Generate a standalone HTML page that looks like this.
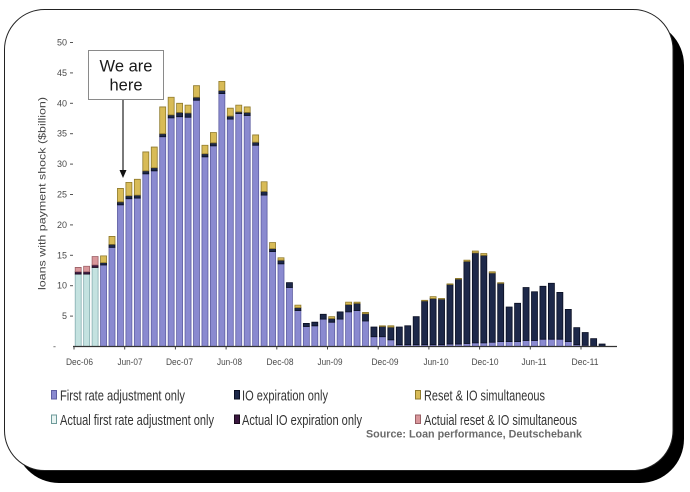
<!DOCTYPE html>
<html>
<head>
<meta charset="utf-8">
<style>
html,body{margin:0;padding:0;background:#fff;width:690px;height:492px;overflow:hidden;}
svg{display:block;}
.t{fill:#c4e2e0;stroke:#86aeb0;}
.k{fill:#3a1840;stroke:#1a0a1c;}
.p{fill:#d9979b;stroke:#9a6066;}
.b{fill:#8a8ad0;stroke:#5f5fa2;}
.n{fill:#1d2849;stroke:#0a0f22;}
.y{fill:#d8bb57;stroke:#8f7a2c;}
.bars rect{stroke-width:0.8;vector-effect:non-scaling-stroke;}
.ax{font-family:"Liberation Sans",Arial,sans-serif;font-size:9px;fill:#4a4a4a;}
.lg{font-family:"Liberation Sans",Arial,sans-serif;font-size:14.5px;fill:#333;}
</style>
</head>
<body>
<svg width="690" height="492" viewBox="0 0 690 492" xmlns="http://www.w3.org/2000/svg">
  <!-- frame -->
  <rect x="15" y="21" width="669" height="462" rx="44" ry="44" fill="#000"/>
  <rect x="4.5" y="9.5" width="668.5" height="461" rx="40" ry="40" fill="#fff" stroke="#222" stroke-width="1"/>

  <!-- y axis ticks -->
  <g stroke="#555" stroke-width="1">
    <line x1="70" y1="42.5" x2="73" y2="42.5"/>
    <line x1="70" y1="72.9" x2="73" y2="72.9"/>
    <line x1="70" y1="103.3" x2="73" y2="103.3"/>
    <line x1="70" y1="133.7" x2="73" y2="133.7"/>
    <line x1="70" y1="164.1" x2="73" y2="164.1"/>
    <line x1="70" y1="194.5" x2="73" y2="194.5"/>
    <line x1="70" y1="224.9" x2="73" y2="224.9"/>
    <line x1="70" y1="255.3" x2="73" y2="255.3"/>
    <line x1="70" y1="285.7" x2="73" y2="285.7"/>
    <line x1="70" y1="316.1" x2="73" y2="316.1"/>
  </g>
  <g class="ax" text-anchor="end">
    <text x="67" y="45.5">50</text>
    <text x="67" y="75.9">45</text>
    <text x="67" y="106.3">40</text>
    <text x="67" y="136.7">35</text>
    <text x="67" y="167.1">30</text>
    <text x="67" y="197.5">25</text>
    <text x="67" y="227.9">20</text>
    <text x="67" y="258.3">15</text>
    <text x="67" y="288.7">10</text>
    <text x="67" y="319.1">5</text>
    <text x="56" y="349.5">-</text>
  </g>
  <text transform="translate(45.5,193.5) rotate(-90)" text-anchor="middle" font-family="Liberation Sans, Arial, sans-serif" font-size="10.5" fill="#444" textLength="193" lengthAdjust="spacingAndGlyphs">loans with payment shock ($billion)</text>

  <!-- bars -->
  <g class="bars" transform="translate(0,346.5) scale(1,-6.08)">
    <rect class="t" x="75.2" y="0" width="6" height="11.9"/><rect class="k" x="75.2" y="11.9" width="6" height="0.4"/><rect class="p" x="75.2" y="12.3" width="6" height="0.7"/>
    <rect class="t" x="83.65" y="0" width="6" height="11.9"/><rect class="k" x="83.65" y="11.9" width="6" height="0.4"/><rect class="p" x="83.65" y="12.3" width="6" height="0.9"/>
    <rect class="t" x="92.1" y="0" width="6" height="13.0"/><rect class="k" x="92.1" y="13.0" width="6" height="0.4"/><rect class="p" x="92.1" y="13.4" width="6" height="1.4"/>
    <rect class="b" x="100.55" y="0" width="6" height="13.4"/><rect class="n" x="100.55" y="13.4" width="6" height="0.4"/><rect class="y" x="100.55" y="13.8" width="6" height="1.1"/>
    <rect class="b" x="109" y="0" width="6" height="16.3"/><rect class="n" x="109" y="16.3" width="6" height="0.5"/><rect class="y" x="109" y="16.8" width="6" height="1.3"/>
    <rect class="b" x="117.45" y="0" width="6" height="23.3"/><rect class="n" x="117.45" y="23.3" width="6" height="0.5"/><rect class="y" x="117.45" y="23.8" width="6" height="2.2"/>
    <rect class="b" x="125.9" y="0" width="6" height="24.3"/><rect class="n" x="125.9" y="24.3" width="6" height="0.5"/><rect class="y" x="125.9" y="24.8" width="6" height="2.2"/>
    <rect class="b" x="134.35" y="0" width="6" height="24.4"/><rect class="n" x="134.35" y="24.4" width="6" height="0.5"/><rect class="y" x="134.35" y="24.9" width="6" height="2.6"/>
    <rect class="b" x="142.8" y="0" width="6" height="28.4"/><rect class="n" x="142.8" y="28.4" width="6" height="0.5"/><rect class="y" x="142.8" y="28.9" width="6" height="3.1"/>
    <rect class="b" x="151.25" y="0" width="6" height="28.9"/><rect class="n" x="151.25" y="28.9" width="6" height="0.5"/><rect class="y" x="151.25" y="29.4" width="6" height="3.4"/>
    <rect class="b" x="159.7" y="0" width="6" height="34.5"/><rect class="n" x="159.7" y="34.5" width="6" height="0.5"/><rect class="y" x="159.7" y="35" width="6" height="4.4"/>
    <rect class="b" x="168.15" y="0" width="6" height="37.6"/><rect class="n" x="168.15" y="37.6" width="6" height="0.5"/><rect class="y" x="168.15" y="38.1" width="6" height="2.9"/>
    <rect class="b" x="176.6" y="0" width="6" height="37.8"/><rect class="n" x="176.6" y="37.8" width="6" height="0.7"/><rect class="y" x="176.6" y="38.5" width="6" height="1.5"/>
    <rect class="b" x="185.05" y="0" width="6" height="37.7"/><rect class="n" x="185.05" y="37.7" width="6" height="0.7"/><rect class="y" x="185.05" y="38.4" width="6" height="1.3"/>
    <rect class="b" x="193.5" y="0" width="6" height="40.5"/><rect class="n" x="193.5" y="40.5" width="6" height="0.5"/><rect class="y" x="193.5" y="41" width="6" height="1.9"/>
    <rect class="b" x="201.95" y="0" width="6" height="31.2"/><rect class="n" x="201.95" y="31.2" width="6" height="0.5"/><rect class="y" x="201.95" y="31.7" width="6" height="1.4"/>
    <rect class="b" x="210.4" y="0" width="6" height="33.0"/><rect class="n" x="210.4" y="33.0" width="6" height="0.5"/><rect class="y" x="210.4" y="33.5" width="6" height="1.7"/>
    <rect class="b" x="218.85" y="0" width="6" height="41.6"/><rect class="n" x="218.85" y="41.6" width="6" height="0.5"/><rect class="y" x="218.85" y="42.1" width="6" height="1.5"/>
    <rect class="b" x="227.3" y="0" width="6" height="37.4"/><rect class="n" x="227.3" y="37.4" width="6" height="0.5"/><rect class="y" x="227.3" y="37.9" width="6" height="1.3"/>
    <rect class="b" x="235.75" y="0" width="6" height="38.3"/><rect class="n" x="235.75" y="38.3" width="6" height="0.3"/><rect class="y" x="235.75" y="38.6" width="6" height="1.1"/>
    <rect class="b" x="244.2" y="0" width="6" height="38.0"/><rect class="n" x="244.2" y="38.0" width="6" height="0.5"/><rect class="y" x="244.2" y="38.5" width="6" height="0.9"/>
    <rect class="b" x="252.65" y="0" width="6" height="33.1"/><rect class="n" x="252.65" y="33.1" width="6" height="0.5"/><rect class="y" x="252.65" y="33.6" width="6" height="1.2"/>
    <rect class="b" x="261.1" y="0" width="6" height="24.9"/><rect class="n" x="261.1" y="24.9" width="6" height="0.6"/><rect class="y" x="261.1" y="25.5" width="6" height="1.6"/>
    <rect class="b" x="269.55" y="0" width="6" height="15.6"/><rect class="n" x="269.55" y="15.6" width="6" height="0.5"/><rect class="y" x="269.55" y="16.1" width="6" height="1.0"/>
    <rect class="b" x="278" y="0" width="6" height="13.6"/><rect class="n" x="278" y="13.6" width="6" height="0.6"/><rect class="y" x="278" y="14.2" width="6" height="0.4"/>
    <rect class="b" x="286.45" y="0" width="6" height="9.7"/><rect class="n" x="286.45" y="9.7" width="6" height="0.8"/>
    <rect class="b" x="294.9" y="0" width="6" height="5.9"/><rect class="n" x="294.9" y="5.9" width="6" height="0.5"/><rect class="y" x="294.9" y="6.4" width="6" height="0.4"/>
    <rect class="b" x="303.35" y="0" width="6" height="3.3"/><rect class="n" x="303.35" y="3.3" width="6" height="0.5"/>
    <rect class="b" x="311.8" y="0" width="6" height="3.4"/><rect class="n" x="311.8" y="3.4" width="6" height="0.6"/>
    <rect class="b" x="320.25" y="0" width="6" height="4.5"/><rect class="n" x="320.25" y="4.5" width="6" height="0.8"/>
    <rect class="b" x="328.7" y="0" width="6" height="4.0"/><rect class="n" x="328.7" y="4.0" width="6" height="0.6"/><rect class="y" x="328.7" y="4.6" width="6" height="0.3"/>
    <rect class="b" x="337.15" y="0" width="6" height="4.5"/><rect class="n" x="337.15" y="4.5" width="6" height="1.2"/>
    <rect class="b" x="345.6" y="0" width="6" height="5.7"/><rect class="n" x="345.6" y="5.7" width="6" height="1.2"/><rect class="y" x="345.6" y="6.9" width="6" height="0.4"/>
    <rect class="b" x="354.05" y="0" width="6" height="5.9"/><rect class="n" x="354.05" y="5.9" width="6" height="1.2"/><rect class="y" x="354.05" y="7.1" width="6" height="0.2"/>
    <rect class="b" x="362.5" y="0" width="6" height="4.2"/><rect class="n" x="362.5" y="4.2" width="6" height="1.2"/><rect class="y" x="362.5" y="5.4" width="6" height="0.2"/>
    <rect class="b" x="370.95" y="0" width="6" height="1.6"/><rect class="n" x="370.95" y="1.6" width="6" height="1.6"/>
    <rect class="b" x="379.4" y="0" width="6" height="1.6"/><rect class="n" x="379.4" y="1.6" width="6" height="1.7"/><rect class="y" x="379.4" y="3.3" width="6" height="0.1"/>
    <rect class="b" x="387.85" y="0" width="6" height="1.1"/><rect class="n" x="387.85" y="1.1" width="6" height="2.1"/><rect class="y" x="387.85" y="3.2" width="6" height="0.2"/>
    <rect class="b" x="396.3" y="0" width="6" height="0.3"/><rect class="n" x="396.3" y="0.3" width="6" height="2.9"/>
    <rect class="b" x="404.75" y="0" width="6" height="0.3"/><rect class="n" x="404.75" y="0.3" width="6" height="3.1"/>
    <rect class="b" x="413.2" y="0" width="6" height="0.3"/><rect class="n" x="413.2" y="0.3" width="6" height="4.6"/>
    <rect class="b" x="421.65" y="0" width="6" height="0.3"/><rect class="n" x="421.65" y="0.3" width="6" height="7.2"/><rect class="y" x="421.65" y="7.5" width="6" height="0.1"/>
    <rect class="b" x="430.1" y="0" width="6" height="0.3"/><rect class="n" x="430.1" y="0.3" width="6" height="7.6"/><rect class="y" x="430.1" y="7.9" width="6" height="0.3"/>
    <rect class="b" x="438.55" y="0" width="6" height="0.3"/><rect class="n" x="438.55" y="0.3" width="6" height="7.5"/><rect class="y" x="438.55" y="7.8" width="6" height="0.1"/>
    <rect class="b" x="447" y="0" width="6" height="0.4"/><rect class="n" x="447" y="0.4" width="6" height="9.8"/><rect class="y" x="447" y="10.2" width="6" height="0.1"/>
    <rect class="b" x="455.45" y="0" width="6" height="0.4"/><rect class="n" x="455.45" y="0.4" width="6" height="10.7"/><rect class="y" x="455.45" y="11.1" width="6" height="0.1"/>
    <rect class="b" x="463.9" y="0" width="6" height="0.5"/><rect class="n" x="463.9" y="0.5" width="6" height="13.5"/><rect class="y" x="463.9" y="14.0" width="6" height="0.2"/>
    <rect class="b" x="472.35" y="0" width="6" height="0.6"/><rect class="n" x="472.35" y="0.6" width="6" height="14.8"/><rect class="y" x="472.35" y="15.4" width="6" height="0.3"/>
    <rect class="b" x="480.8" y="0" width="6" height="0.6"/><rect class="n" x="480.8" y="0.6" width="6" height="14.4"/><rect class="y" x="480.8" y="15.0" width="6" height="0.3"/>
    <rect class="b" x="489.25" y="0" width="6" height="0.7"/><rect class="n" x="489.25" y="0.7" width="6" height="11.4"/><rect class="y" x="489.25" y="12.1" width="6" height="0.2"/>
    <rect class="b" x="497.7" y="0" width="6" height="0.8"/><rect class="n" x="497.7" y="0.8" width="6" height="9.6"/><rect class="y" x="497.7" y="10.4" width="6" height="0.1"/>
    <rect class="b" x="506.15" y="0" width="6" height="0.8"/><rect class="n" x="506.15" y="0.8" width="6" height="5.7"/>
    <rect class="b" x="514.6" y="0" width="6" height="0.8"/><rect class="n" x="514.6" y="0.8" width="6" height="6.3"/>
    <rect class="b" x="523.05" y="0" width="6" height="1.0"/><rect class="n" x="523.05" y="1.0" width="6" height="8.7"/>
    <rect class="b" x="531.5" y="0" width="6" height="1.0"/><rect class="n" x="531.5" y="1.0" width="6" height="8.0"/>
    <rect class="b" x="539.95" y="0" width="6" height="1.2"/><rect class="n" x="539.95" y="1.2" width="6" height="8.7"/>
    <rect class="b" x="548.4" y="0" width="6" height="1.2"/><rect class="n" x="548.4" y="1.2" width="6" height="9.2"/>
    <rect class="b" x="556.85" y="0" width="6" height="1.2"/><rect class="n" x="556.85" y="1.2" width="6" height="7.7"/>
    <rect class="b" x="565.3" y="0" width="6" height="0.8"/><rect class="n" x="565.3" y="0.8" width="6" height="5.3"/>
    <rect class="b" x="573.75" y="0" width="6" height="0.3"/><rect class="n" x="573.75" y="0.3" width="6" height="2.8"/>
    <rect class="b" x="582.2" y="0" width="6" height="0.2"/><rect class="n" x="582.2" y="0.2" width="6" height="2.1"/>
    <rect class="n" x="590.65" y="0" width="6" height="1.3"/>
    <rect class="n" x="599.1" y="0" width="6" height="0.4"/>
  </g>

  <!-- x axis -->
  <line x1="73" y1="346.5" x2="617" y2="346.5" stroke="#333" stroke-width="1.2"/>
  <g stroke="#444" stroke-width="1">
    <line x1="74" y1="346.5" x2="74" y2="349.5"/>
    <line x1="124.7" y1="346.5" x2="124.7" y2="349.5"/>
    <line x1="175.4" y1="346.5" x2="175.4" y2="349.5"/>
    <line x1="226.1" y1="346.5" x2="226.1" y2="349.5"/>
    <line x1="276.8" y1="346.5" x2="276.8" y2="349.5"/>
    <line x1="327.5" y1="346.5" x2="327.5" y2="349.5"/>
    <line x1="378.2" y1="346.5" x2="378.2" y2="349.5"/>
    <line x1="428.9" y1="346.5" x2="428.9" y2="349.5"/>
    <line x1="479.6" y1="346.5" x2="479.6" y2="349.5"/>
    <line x1="530.3" y1="346.5" x2="530.3" y2="349.5"/>
    <line x1="581" y1="346.5" x2="581" y2="349.5"/>
  </g>
  <g class="ax" text-anchor="middle">
    <text x="79.5" y="365" textLength="27" lengthAdjust="spacingAndGlyphs">Dec-06</text>
    <text x="130" y="365" textLength="25" lengthAdjust="spacingAndGlyphs">Jun-07</text>
    <text x="179.5" y="365" textLength="27" lengthAdjust="spacingAndGlyphs">Dec-07</text>
    <text x="229.5" y="365" textLength="25" lengthAdjust="spacingAndGlyphs">Jun-08</text>
    <text x="280" y="365" textLength="27" lengthAdjust="spacingAndGlyphs">Dec-08</text>
    <text x="330" y="365" textLength="25" lengthAdjust="spacingAndGlyphs">Jun-09</text>
    <text x="385" y="365" textLength="27" lengthAdjust="spacingAndGlyphs">Dec-09</text>
    <text x="436" y="365" textLength="25" lengthAdjust="spacingAndGlyphs">Jun-10</text>
    <text x="485" y="365" textLength="27" lengthAdjust="spacingAndGlyphs">Dec-10</text>
    <text x="534" y="365" textLength="25" lengthAdjust="spacingAndGlyphs">Jun-11</text>
    <text x="585" y="365" textLength="27" lengthAdjust="spacingAndGlyphs">Dec-11</text>
  </g>

  <!-- We are here -->
  <rect x="88.5" y="50.5" width="75" height="49" fill="#fff" stroke="#8a8a8a" stroke-width="1"/>
  <g font-family="Liberation Sans, Arial, sans-serif" font-size="16.5" fill="#1a1a1a" text-anchor="middle">
    <text x="126" y="71.5">We are</text>
    <text x="126" y="90.5">here</text>
  </g>
  <line x1="123" y1="100" x2="123" y2="171" stroke="#222" stroke-width="1.2"/>
  <polygon points="119.5,170 126.5,170 123,178" fill="#111"/>

  <!-- legend -->
  <rect x="51.5" y="390.5" width="5" height="8.5" class="b" stroke-width="1"/>
  <text class="lg" x="60" y="400.5" textLength="125" lengthAdjust="spacingAndGlyphs">First rate adjustment only</text>
  <rect x="234.5" y="390.5" width="5" height="8.5" class="n" stroke-width="1"/>
  <text class="lg" x="242" y="400.5" textLength="86" lengthAdjust="spacingAndGlyphs">IO expiration only</text>
  <rect x="415.5" y="390.5" width="5" height="8.5" class="y" stroke-width="1"/>
  <text class="lg" x="424" y="400.5" textLength="121" lengthAdjust="spacingAndGlyphs">Reset &amp; IO simultaneous</text>

  <rect x="51.5" y="415" width="5" height="8.5" fill="#e8f4f2" stroke="#6e9a9a" stroke-width="1"/>
  <text class="lg" x="60" y="425" textLength="154" lengthAdjust="spacingAndGlyphs">Actual first rate adjustment only</text>
  <rect x="234.5" y="415" width="5" height="8.5" class="k" stroke-width="1"/>
  <text class="lg" x="242" y="425" textLength="120" lengthAdjust="spacingAndGlyphs">Actual IO expiration only</text>
  <rect x="415.5" y="415" width="5" height="8.5" class="p" stroke-width="1"/>
  <text class="lg" x="424" y="425" textLength="153" lengthAdjust="spacingAndGlyphs">Actuial reset &amp; IO simultaneous</text>

  <text x="366" y="437.5" font-family="Liberation Sans, Arial, sans-serif" font-size="11" font-weight="bold" fill="#6a6a6a" textLength="216" lengthAdjust="spacingAndGlyphs">Source: Loan performance, Deutschebank</text>
</svg>
</body>
</html>
